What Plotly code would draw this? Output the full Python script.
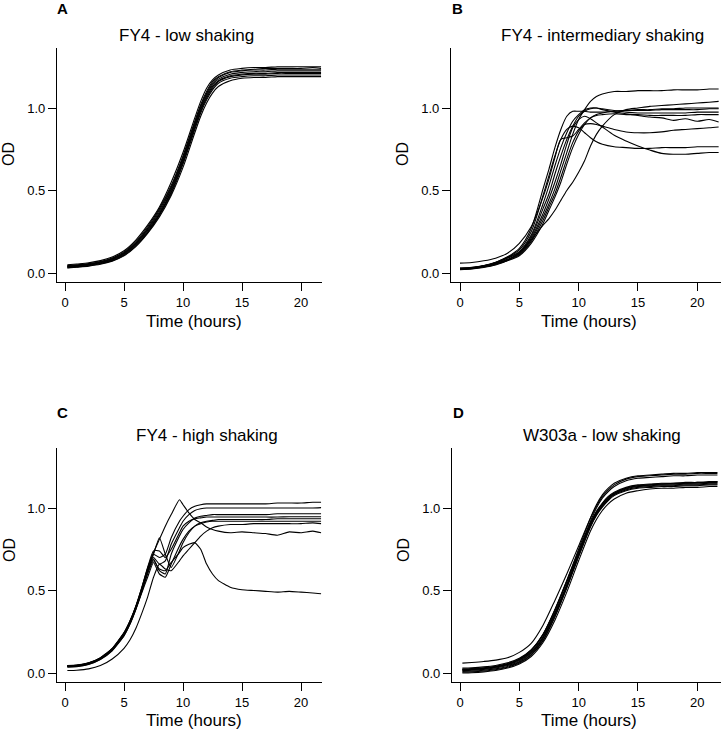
import plotly.graph_objects as go

# ---------------- data ----------------
# Panel A: FY4 - low shaking
tA = [0.2, 1, 2, 3, 4, 5, 6, 7, 8, 9, 10, 11, 11.5, 12, 12.5, 13, 14, 15, 16, 17, 18, 19, 20, 21, 21.7]
A1 = [0.050, 0.055, 0.062, 0.075, 0.097, 0.135, 0.20, 0.29, 0.40, 0.55, 0.73, 0.94, 1.04, 1.12, 1.17, 1.20, 1.23, 1.24, 1.245, 1.245, 1.25, 1.25, 1.25, 1.25, 1.25]
A2 = [0.045, 0.050, 0.057, 0.070, 0.091, 0.128, 0.19, 0.28, 0.39, 0.53, 0.71, 0.92, 1.02, 1.10, 1.16, 1.19, 1.22, 1.23, 1.235, 1.24, 1.24, 1.24, 1.24, 1.245, 1.24]
A3 = [0.042, 0.047, 0.054, 0.067, 0.088, 0.123, 0.183, 0.27, 0.38, 0.52, 0.70, 0.91, 1.01, 1.09, 1.15, 1.185, 1.215, 1.225, 1.23, 1.23, 1.235, 1.235, 1.235, 1.235, 1.235]
A4 = [0.040, 0.045, 0.052, 0.065, 0.085, 0.120, 0.18, 0.265, 0.37, 0.51, 0.69, 0.90, 1.00, 1.08, 1.14, 1.175, 1.205, 1.215, 1.22, 1.22, 1.225, 1.225, 1.225, 1.225, 1.225]
A5 = [0.038, 0.043, 0.050, 0.062, 0.082, 0.116, 0.175, 0.258, 0.36, 0.50, 0.68, 0.89, 0.99, 1.07, 1.13, 1.165, 1.195, 1.205, 1.21, 1.21, 1.215, 1.215, 1.215, 1.215, 1.215]
A6 = [0.035, 0.040, 0.047, 0.059, 0.079, 0.112, 0.17, 0.25, 0.355, 0.49, 0.67, 0.88, 0.98, 1.06, 1.12, 1.16, 1.19, 1.20, 1.205, 1.205, 1.21, 1.21, 1.21, 1.21, 1.21]
A7 = [0.032, 0.037, 0.044, 0.056, 0.075, 0.108, 0.165, 0.245, 0.35, 0.48, 0.66, 0.87, 0.97, 1.05, 1.11, 1.15, 1.18, 1.19, 1.195, 1.195, 1.20, 1.20, 1.20, 1.20, 1.20]
A8 = [0.030, 0.035, 0.042, 0.053, 0.072, 0.104, 0.16, 0.24, 0.34, 0.47, 0.64, 0.85, 0.95, 1.03, 1.09, 1.13, 1.165, 1.18, 1.185, 1.185, 1.19, 1.19, 1.19, 1.19, 1.19]

# Panel B: FY4 - intermediary shaking
tB = [0, 1, 2, 3, 4, 5, 6, 7, 7.5, 8, 8.5, 9, 9.5, 10, 10.5, 11, 11.5, 12, 13, 14, 15, 16, 17, 18, 19, 20, 21, 21.8]
B1 = [0.028, 0.032, 0.042, 0.058, 0.08, 0.115, 0.20, 0.34, 0.42, 0.51, 0.62, 0.73, 0.84, 0.93, 0.99, 1.04, 1.07, 1.085, 1.10, 1.10, 1.105, 1.105, 1.105, 1.11, 1.11, 1.11, 1.115, 1.115]
B2 = [0.02, 0.024, 0.033, 0.048, 0.075, 0.125, 0.20, 0.29, 0.33, 0.38, 0.44, 0.50, 0.55, 0.61, 0.68, 0.77, 0.84, 0.89, 0.96, 0.99, 1.0, 1.01, 1.015, 1.02, 1.025, 1.03, 1.035, 1.04]
B3 = [0.025, 0.03, 0.042, 0.062, 0.094, 0.14, 0.25, 0.47, 0.59, 0.71, 0.81, 0.87, 0.89, 0.88, 0.85, 0.82, 0.795, 0.78, 0.765, 0.76, 0.755, 0.755, 0.76, 0.76, 0.76, 0.765, 0.765, 0.765]
B4 = [0.026, 0.031, 0.041, 0.058, 0.083, 0.12, 0.21, 0.36, 0.45, 0.55, 0.66, 0.78, 0.88, 0.93, 0.95, 0.935, 0.91, 0.885, 0.835, 0.80, 0.77, 0.745, 0.725, 0.72, 0.72, 0.725, 0.73, 0.73]
B5 = [0.024, 0.029, 0.039, 0.055, 0.078, 0.11, 0.19, 0.32, 0.40, 0.48, 0.58, 0.69, 0.79, 0.86, 0.90, 0.905, 0.90, 0.89, 0.87, 0.855, 0.85, 0.85, 0.855, 0.865, 0.87, 0.875, 0.88, 0.885]
B6 = [0.03, 0.035, 0.046, 0.065, 0.095, 0.13, 0.23, 0.42, 0.53, 0.65, 0.76, 0.85, 0.92, 0.96, 0.99, 1.0, 1.0, 0.99, 0.975, 0.965, 0.955, 0.945, 0.94, 0.925, 0.935, 0.92, 0.93, 0.915]
B7 = [0.028, 0.033, 0.044, 0.062, 0.09, 0.125, 0.22, 0.39, 0.48, 0.60, 0.71, 0.81, 0.89, 0.95, 0.98, 0.995, 1.0, 0.995, 0.985, 0.975, 0.97, 0.97, 0.97, 0.97, 0.97, 0.975, 0.975, 0.975]
B8 = [0.025, 0.03, 0.043, 0.064, 0.098, 0.15, 0.27, 0.51, 0.63, 0.76, 0.87, 0.95, 0.98, 0.98, 0.98, 0.975, 0.975, 0.975, 0.98, 0.985, 0.99, 0.99, 0.995, 0.995, 1.0, 1.0, 1.0, 1.0]
B9 = [0.022, 0.026, 0.036, 0.052, 0.074, 0.105, 0.18, 0.30, 0.38, 0.46, 0.55, 0.66, 0.76, 0.84, 0.90, 0.94, 0.96, 0.97, 0.98, 0.985, 0.985, 0.985, 0.99, 0.99, 0.99, 0.99, 0.995, 0.995]
B10 = [0.06, 0.064, 0.074, 0.09, 0.12, 0.18, 0.28, 0.46, 0.57, 0.70, 0.81, 0.82, 0.83, 0.87, 0.91, 0.94, 0.955, 0.96, 0.965, 0.96, 0.96, 0.955, 0.955, 0.955, 0.955, 0.96, 0.96, 0.96]

# Panel C: FY4 - high shaking
tC = [0.2, 1, 2, 3, 4, 5, 5.5, 6, 6.5, 7, 7.5, 8, 8.5, 9, 9.7, 10, 10.5, 11, 11.5, 12, 12.5, 13, 14, 15, 16, 17, 18, 19, 20, 21, 21.7]
C1 = [0.045, 0.047, 0.06, 0.09, 0.145, 0.24, 0.31, 0.40, 0.51, 0.63, 0.73, 0.81, 0.89, 0.96, 1.05, 1.02, 0.97, 0.93, 0.91, 0.885, 0.87, 0.86, 0.85, 0.855, 0.85, 0.845, 0.835, 0.855, 0.85, 0.86, 0.85]
C2 = [0.04, 0.043, 0.057, 0.088, 0.142, 0.235, 0.305, 0.395, 0.50, 0.62, 0.72, 0.82, 0.72, 0.64, 0.74, 0.79, 0.85, 0.89, 0.91, 0.92, 0.925, 0.93, 0.93, 0.93, 0.93, 0.93, 0.935, 0.935, 0.935, 0.935, 0.935]
C3 = [0.035, 0.038, 0.052, 0.082, 0.135, 0.225, 0.295, 0.385, 0.49, 0.60, 0.68, 0.63, 0.62, 0.67, 0.73, 0.76, 0.78, 0.79, 0.75, 0.66, 0.60, 0.56, 0.52, 0.505, 0.50, 0.495, 0.49, 0.495, 0.49, 0.485, 0.48]
C4 = [0.015, 0.017, 0.025, 0.045, 0.085, 0.15, 0.20, 0.27, 0.36, 0.46, 0.58, 0.66, 0.63, 0.62, 0.68, 0.71, 0.75, 0.79, 0.83, 0.86, 0.88, 0.89, 0.90, 0.90, 0.905, 0.905, 0.905, 0.905, 0.905, 0.91, 0.905]
C5 = [0.045, 0.048, 0.062, 0.093, 0.15, 0.245, 0.315, 0.405, 0.515, 0.635, 0.72, 0.70, 0.72, 0.82, 0.92, 0.95, 0.99, 1.01, 1.02, 1.025, 1.025, 1.025, 1.025, 1.025, 1.025, 1.025, 1.03, 1.03, 1.03, 1.035, 1.035]
C6 = [0.042, 0.045, 0.059, 0.09, 0.146, 0.24, 0.31, 0.40, 0.505, 0.62, 0.70, 0.66, 0.68, 0.78, 0.88, 0.92, 0.96, 0.985, 0.995, 1.0, 1.0, 1.0, 1.0, 1.0, 1.0, 1.0, 1.0, 1.0, 1.0, 1.0, 1.002]
C7 = [0.04, 0.043, 0.056, 0.086, 0.14, 0.232, 0.30, 0.39, 0.495, 0.61, 0.69, 0.62, 0.60, 0.72, 0.83, 0.87, 0.91, 0.94, 0.95, 0.955, 0.96, 0.96, 0.96, 0.96, 0.96, 0.96, 0.965, 0.965, 0.965, 0.965, 0.965]
C8 = [0.043, 0.046, 0.06, 0.091, 0.147, 0.242, 0.312, 0.402, 0.515, 0.64, 0.74, 0.74, 0.70, 0.75, 0.85, 0.89, 0.92, 0.935, 0.94, 0.945, 0.945, 0.945, 0.945, 0.945, 0.945, 0.945, 0.945, 0.947, 0.947, 0.947, 0.947]
C9 = [0.038, 0.041, 0.054, 0.084, 0.137, 0.228, 0.297, 0.385, 0.485, 0.58, 0.67, 0.60, 0.58, 0.66, 0.77, 0.81, 0.86, 0.89, 0.905, 0.915, 0.92, 0.92, 0.92, 0.92, 0.92, 0.92, 0.92, 0.92, 0.92, 0.92, 0.92]

# Panel D: W303a - low shaking
tD = [0.2, 1, 2, 3, 4, 5, 6, 7, 8, 9, 10, 11, 11.5, 12, 12.5, 13, 14, 15, 16, 17, 18, 19, 20, 21, 21.7]
D1 = [0.06, 0.064, 0.07, 0.078, 0.092, 0.125, 0.18, 0.29, 0.44, 0.60, 0.77, 0.94, 1.01, 1.07, 1.11, 1.14, 1.175, 1.19, 1.195, 1.20, 1.205, 1.205, 1.21, 1.21, 1.21]
D2 = [0.02, 0.022, 0.027, 0.036, 0.052, 0.08, 0.135, 0.23, 0.38, 0.56, 0.75, 0.94, 1.02, 1.08, 1.12, 1.15, 1.18, 1.195, 1.20, 1.205, 1.21, 1.21, 1.215, 1.215, 1.215]
D3 = [0.025, 0.027, 0.032, 0.041, 0.057, 0.085, 0.14, 0.235, 0.385, 0.56, 0.74, 0.92, 1.0, 1.06, 1.10, 1.13, 1.165, 1.18, 1.185, 1.19, 1.195, 1.195, 1.20, 1.20, 1.20]
D4 = [0.03, 0.032, 0.037, 0.046, 0.062, 0.09, 0.14, 0.235, 0.38, 0.55, 0.73, 0.91, 0.98, 1.03, 1.07, 1.095, 1.125, 1.14, 1.145, 1.15, 1.15, 1.155, 1.155, 1.16, 1.16]
D5 = [0.02, 0.022, 0.027, 0.035, 0.05, 0.075, 0.125, 0.215, 0.36, 0.53, 0.72, 0.90, 0.97, 1.02, 1.06, 1.09, 1.12, 1.135, 1.14, 1.145, 1.145, 1.15, 1.15, 1.155, 1.155]
D6 = [0.015, 0.017, 0.022, 0.03, 0.045, 0.07, 0.12, 0.21, 0.355, 0.525, 0.715, 0.895, 0.965, 1.015, 1.055, 1.085, 1.115, 1.13, 1.135, 1.14, 1.14, 1.145, 1.145, 1.15, 1.15]
D7 = [0.01, 0.012, 0.017, 0.025, 0.04, 0.065, 0.113, 0.20, 0.345, 0.52, 0.71, 0.89, 0.96, 1.01, 1.05, 1.08, 1.11, 1.125, 1.13, 1.135, 1.135, 1.14, 1.14, 1.145, 1.145]
D8 = [0.005, 0.007, 0.012, 0.02, 0.035, 0.06, 0.108, 0.195, 0.34, 0.515, 0.705, 0.885, 0.955, 1.005, 1.045, 1.075, 1.105, 1.12, 1.125, 1.13, 1.13, 1.135, 1.135, 1.14, 1.14]
D9 = [0.0, 0.002, 0.007, 0.015, 0.03, 0.055, 0.10, 0.185, 0.32, 0.49, 0.68, 0.86, 0.93, 0.985, 1.025, 1.055, 1.09, 1.105, 1.115, 1.12, 1.12, 1.125, 1.125, 1.13, 1.13]
D10 = [0.02, 0.022, 0.028, 0.037, 0.053, 0.08, 0.13, 0.22, 0.365, 0.535, 0.725, 0.905, 0.975, 1.025, 1.065, 1.09, 1.12, 1.135, 1.14, 1.145, 1.15, 1.15, 1.155, 1.155, 1.16]

titles = ["FY4 - low shaking", "FY4 - intermediary shaking", "FY4 - high shaking", "W303a - low shaking"]
letters = ["A", "B", "C", "D"]
x_ticks = [0, 5, 10, 15, 20]
y_ticks = [0.0, 0.5, 1.0]
x_title = "Time (hours)"
y_title = "OD"

panels = [
    (tA, [A1, A2, A3, A4, A5, A6, A7, A8]),
    (tB, [B1, B2, B3, B4, B5, B6, B7, B8, B9, B10]),
    (tC, [C1, C2, C3, C4, C5, C6, C7, C8, C9]),
    (tD, [D1, D2, D3, D4, D5, D6, D7, D8, D9, D10]),
]

# ---------------- layout geometry (pixels) ----------------
W, H = 721, 731
FONT = "Liberation Sans, Arial, Helvetica, sans-serif"
# plot boxes: (left, right, top, bottom) in pixels
boxes = [(57, 322, 48, 282), (451, 721, 48, 282), (57, 322, 448, 682), (452, 721, 448, 682)]
x_ranges = [[-0.678, 21.78], [-0.759, 22.0], [-0.678, 21.78], [-0.674, 22.0]]
y_range = [-0.0545, 1.3636]
smooth = [0.8, 0.8, 0.5, 0.8]

fig = go.Figure()
layout = dict(width=W, height=H, margin=dict(l=0, r=0, t=0, b=0), autosize=False,
              paper_bgcolor="white", plot_bgcolor="white", showlegend=False,
              font=dict(family=FONT, color="black", size=13))
annotations = []

title_pos = [(186, 35), (602, 35), (207, 435), (602, 435)]
letter_pos = [(62.5, 8.5), (457.5, 8.5), (62.5, 412.5), (458, 412.5)]
xtitle_pos = [(194, 321.5), (589, 321.5), (194, 720.5), (589, 720.5)]
ytitle_pos = [(9, 154), (403, 154), (9, 550), (403, 550)]

def px(x):
    return x / W

def py(y):
    return 1 - y / H

for i, (t, series) in enumerate(panels):
    k = "" if i == 0 else str(i + 1)
    for s in series:
        fig.add_trace(go.Scatter(x=t, y=s, mode="lines", xaxis="x" + k, yaxis="y" + k,
                                 line=dict(color="black", width=1.1, shape="spline", smoothing=smooth[i]),
                                 hoverinfo="skip"))
    l, r, tp, b = boxes[i]
    axcommon = dict(showline=True, linecolor="black", linewidth=1.3, ticks="outside", ticklen=8,
                    tickwidth=1.3, tickcolor="black", showgrid=False, zeroline=False,
                    tickfont=dict(family=FONT, size=13, color="black"), fixedrange=True)
    layout["xaxis" + k] = dict(axcommon, domain=[px(l), px(r)], range=x_ranges[i], tickvals=x_ticks,
                               anchor="y" + k)
    layout["yaxis" + k] = dict(axcommon, domain=[py(b), py(tp)], range=y_range, tickvals=y_ticks,
                               tickformat=".1f", anchor="x" + k)
    annotations.append(dict(text=titles[i], x=px(title_pos[i][0]), y=py(title_pos[i][1]), xref="paper", yref="paper",
                            showarrow=False, xanchor="center", yanchor="middle",
                            font=dict(family=FONT, size=17, color="black")))
    annotations.append(dict(text="<b>" + letters[i] + "</b>", x=px(letter_pos[i][0]), y=py(letter_pos[i][1]),
                            xref="paper", yref="paper", showarrow=False, xanchor="center", yanchor="middle",
                            font=dict(family=FONT, size=15, color="black")))
    annotations.append(dict(text=x_title, x=px(xtitle_pos[i][0]), y=py(xtitle_pos[i][1]), xref="paper", yref="paper",
                            showarrow=False, xanchor="center", yanchor="middle",
                            font=dict(family=FONT, size=17, color="black")))
    annotations.append(dict(text=y_title, x=px(ytitle_pos[i][0]), y=py(ytitle_pos[i][1]), xref="paper", yref="paper",
                            showarrow=False, xanchor="center", yanchor="middle", textangle=-90,
                            font=dict(family=FONT, size=16, color="black")))

layout["annotations"] = annotations
fig.update_layout(**layout)
fig.write_html("out.html", config={"displayModeBar": False},
               post_script="document.body.style.margin='0px';document.body.style.overflow='hidden';")
